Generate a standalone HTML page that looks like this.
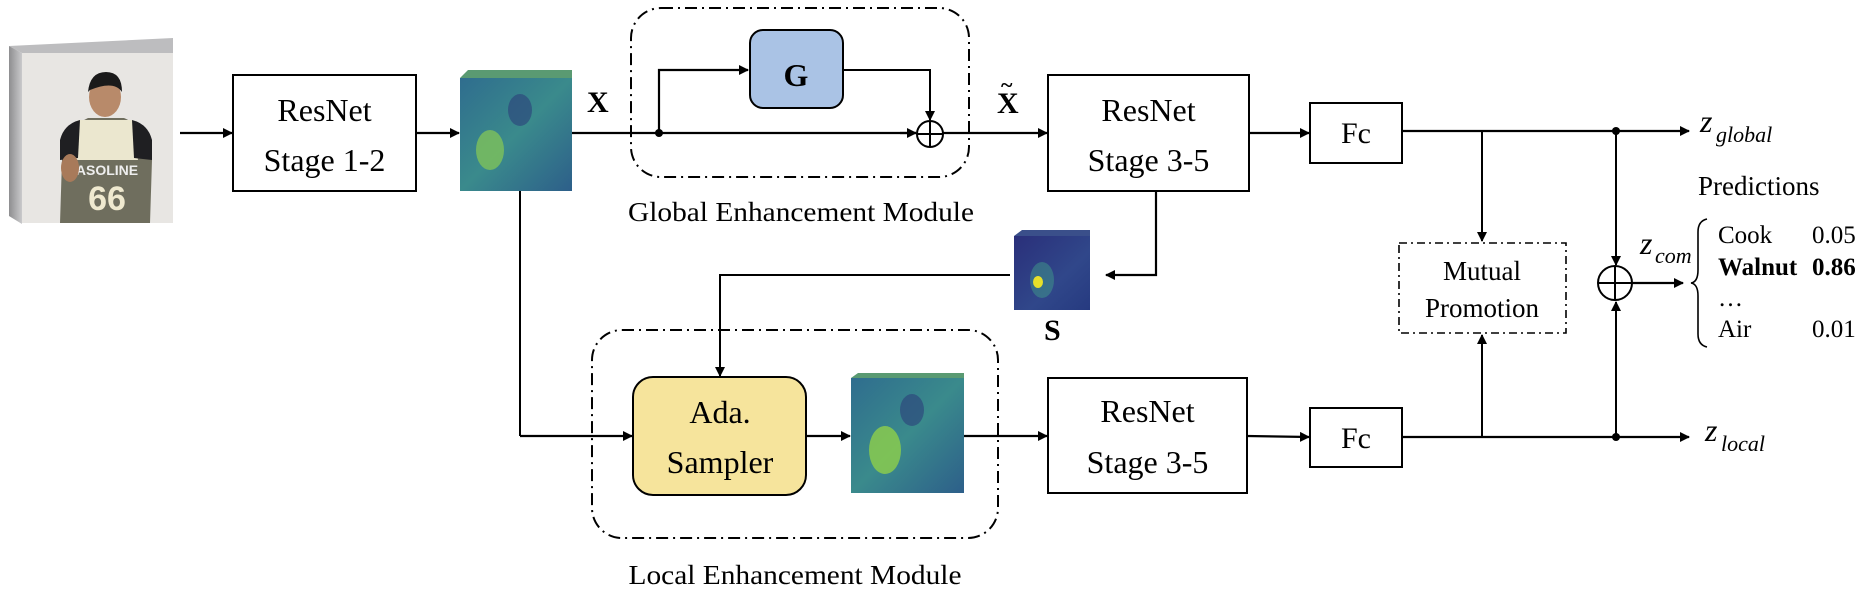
<!DOCTYPE html>
<html><head><meta charset="utf-8"><style>
html,body{margin:0;padding:0;background:#fff;}
svg{display:block;}
text{font-family:"Liberation Serif",serif;fill:#000;}
</style></head><body>
<svg width="1865" height="594" viewBox="0 0 1865 594" xmlns="http://www.w3.org/2000/svg" font-family="'Liberation Serif', serif">
<defs>
<marker id="ah" markerWidth="10" markerHeight="10" refX="9" refY="5" orient="auto" markerUnits="userSpaceOnUse">
<path d="M0,0 L10,5 L0,10 Z" fill="#000"/></marker>
<linearGradient id="fm" x1="0" y1="0" x2="1" y2="1">
<stop offset="0" stop-color="#2f6d8e"/><stop offset="0.5" stop-color="#3a8a8c"/><stop offset="1" stop-color="#2d5f8a"/></linearGradient>
<linearGradient id="sm" x1="0" y1="0" x2="1" y2="1">
<stop offset="0" stop-color="#2a2f7a"/><stop offset="0.6" stop-color="#30478a"/><stop offset="1" stop-color="#263a80"/></linearGradient>
<linearGradient id="bev" x1="0" y1="0" x2="1" y2="0">
<stop offset="0" stop-color="#8e8e90"/><stop offset="1" stop-color="#c9c9cb"/></linearGradient>
</defs>

<!-- Photo -->
<polygon points="9,46 22,53 173,53 173,38" fill="#bdbdbf"/>
<polygon points="9,46 22,53 22,224 9,216" fill="url(#bev)"/>
<rect x="22" y="53" width="151" height="170" fill="#e8e6e3"/>
<path d="M60,223 L62,160 Q66,128 88,118 L124,118 Q148,128 152,160 L150,223 Z" fill="#6f6e5e"/>
<path d="M78,120 L132,120 L138,160 L72,160 Z" fill="#ebe7cf"/>
<path d="M60,140 Q64,124 80,120 L78,158 L60,160 Z" fill="#1f1f22"/>
<path d="M152,140 Q148,124 132,120 L134,158 L152,160 Z" fill="#1f1f22"/>
<text x="107" y="175" font-size="14" text-anchor="middle" font-family="Liberation Sans,sans-serif" font-weight="bold" fill="#eee" style="font-family:'Liberation Sans',sans-serif;fill:#eee">ASOLINE</text>
<text x="107" y="210" font-size="34" text-anchor="middle" font-weight="bold" style="font-family:'Liberation Sans',sans-serif;fill:#efe9cf">66</text>
<ellipse cx="105" cy="97" rx="16" ry="20" fill="#b88a6a"/>
<path d="M88,92 Q90,72 106,72 Q122,72 122,92 Q114,80 90,90 Z" fill="#1a1a1a"/>
<ellipse cx="70" cy="168" rx="9" ry="14" fill="#a87a5a"/>

<line x1="180" y1="133" x2="232" y2="133" stroke="#000" stroke-width="2.2" marker-end="url(#ah)"/>
<rect x="233" y="75" width="183" height="116" fill="#fff" stroke="#000" stroke-width="2"/>
<text x="324.5" y="121" font-size="32" text-anchor="middle">ResNet</text>
<text x="324.5" y="171" font-size="32" text-anchor="middle">Stage 1-2</text>
<line x1="416" y1="133" x2="459" y2="133" stroke="#000" stroke-width="2.2" marker-end="url(#ah)"/>

<polygon points="460,78 468,70 572,70 572,78" fill="#5a9a72"/>
<rect x="460" y="78" width="112" height="113" fill="url(#fm)"/>
<ellipse cx="490" cy="150" rx="14" ry="20" fill="#7ec25a" opacity="0.8"/>
<ellipse cx="520" cy="110" rx="12" ry="16" fill="#2b3f7a" opacity="0.6"/>
<line x1="572" y1="133" x2="916" y2="133" stroke="#000" stroke-width="2.2"/>
<line x1="520" y1="191" x2="520" y2="436" stroke="#000" stroke-width="2"/>
<text x="587" y="112" font-size="30" font-weight="bold">X</text>

<rect x="631" y="8" width="338" height="169" rx="30" fill="none" stroke="#000" stroke-width="2" stroke-dasharray="12,5,2,5"/>
<circle cx="659" cy="133" r="4" fill="#000"/>
<polyline points="659,133 659,70 748,70" fill="none" stroke="#000" stroke-width="2.2" marker-end="url(#ah)"/>
<rect x="750" y="30" width="93" height="78" rx="13" fill="#aac3e5" stroke="#000" stroke-width="2"/>
<text x="796" y="86" font-size="32" font-weight="bold" text-anchor="middle">G</text>
<polyline points="843,70 930,70 930,120" fill="none" stroke="#000" stroke-width="2" marker-end="url(#ah)"/>
<line x1="900" y1="133" x2="916" y2="133" stroke="#000" stroke-width="2.2" marker-end="url(#ah)"/>
<circle cx="930" cy="134" r="13" fill="#fff" stroke="#000" stroke-width="2"/>
<line x1="917" y1="134" x2="943" y2="134" stroke="#000" stroke-width="2"/>
<line x1="930" y1="121" x2="930" y2="147" stroke="#000" stroke-width="2"/>
<line x1="943" y1="133" x2="1047" y2="133" stroke="#000" stroke-width="2.2" marker-end="url(#ah)"/>
<text x="997" y="113" font-size="30" font-weight="bold">X</text>
<text x="1001" y="92" font-size="22" font-weight="bold">~</text>
<text x="801" y="221" font-size="27" text-anchor="middle" textLength="346" lengthAdjust="spacingAndGlyphs">Global Enhancement Module</text>

<rect x="1048" y="75" width="201" height="116" fill="#fff" stroke="#000" stroke-width="2"/>
<text x="1148.5" y="121" font-size="32" text-anchor="middle">ResNet</text>
<text x="1148.5" y="171" font-size="32" text-anchor="middle">Stage 3-5</text>
<line x1="1249" y1="133" x2="1309" y2="133" stroke="#000" stroke-width="2.2" marker-end="url(#ah)"/>
<rect x="1310" y="103" width="92" height="60" fill="#fff" stroke="#000" stroke-width="2"/>
<text x="1356" y="143" font-size="30" text-anchor="middle">Fc</text>
<line x1="1402" y1="131" x2="1689" y2="131" stroke="#000" stroke-width="2.2" marker-end="url(#ah)"/>
<circle cx="1616" cy="131" r="4" fill="#000"/>
<line x1="1482" y1="131" x2="1482" y2="241" stroke="#000" stroke-width="2" marker-end="url(#ah)"/>
<line x1="1616" y1="131" x2="1616" y2="265" stroke="#000" stroke-width="2" marker-end="url(#ah)"/>

<polyline points="1156,191 1156,275 1106,275" fill="none" stroke="#000" stroke-width="2.2" marker-end="url(#ah)"/>
<polygon points="1014,236 1022,230 1090,230 1090,236" fill="#3a4f8a"/>
<rect x="1014" y="236" width="76" height="74" fill="url(#sm)"/>
<ellipse cx="1042" cy="280" rx="12" ry="18" fill="#3f9a8a" opacity="0.5"/>
<ellipse cx="1038" cy="282" rx="5" ry="6" fill="#e6e02a"/>
<text x="1044" y="340" font-size="30" font-weight="bold">S</text>
<polyline points="1010,275 720,275 720,376" fill="none" stroke="#000" stroke-width="2" marker-end="url(#ah)"/>

<rect x="592" y="330" width="406" height="208" rx="30" fill="none" stroke="#000" stroke-width="2" stroke-dasharray="12,5,2,5"/>
<line x1="520" y1="436" x2="632" y2="436" stroke="#000" stroke-width="2.2" marker-end="url(#ah)"/>
<rect x="633" y="377" width="173" height="118" rx="20" fill="#f6e49c" stroke="#000" stroke-width="2"/>
<text x="720" y="423" font-size="32" text-anchor="middle">Ada.</text>
<text x="720" y="473" font-size="32" text-anchor="middle">Sampler</text>
<line x1="806" y1="436" x2="850" y2="436" stroke="#000" stroke-width="2.2" marker-end="url(#ah)"/>
<polygon points="851,378 858,373 964,373 964,378" fill="#5a9a72"/>
<rect x="851" y="378" width="113" height="115" fill="url(#fm)"/>
<ellipse cx="885" cy="450" rx="16" ry="24" fill="#8fd04a" opacity="0.8"/>
<ellipse cx="912" cy="410" rx="12" ry="16" fill="#2b3f7a" opacity="0.6"/>
<line x1="964" y1="436" x2="1047" y2="436" stroke="#000" stroke-width="2.2" marker-end="url(#ah)"/>
<text x="795" y="584" font-size="27" text-anchor="middle" textLength="333" lengthAdjust="spacingAndGlyphs">Local Enhancement Module</text>

<rect x="1048" y="378" width="199" height="115" fill="#fff" stroke="#000" stroke-width="2"/>
<text x="1147.5" y="422" font-size="32" text-anchor="middle">ResNet</text>
<text x="1147.5" y="473" font-size="32" text-anchor="middle">Stage 3-5</text>
<line x1="1247" y1="436" x2="1309" y2="437" stroke="#000" stroke-width="2.2" marker-end="url(#ah)"/>
<rect x="1310" y="408" width="92" height="59" fill="#fff" stroke="#000" stroke-width="2"/>
<text x="1356" y="448" font-size="30" text-anchor="middle">Fc</text>
<line x1="1402" y1="437" x2="1689" y2="437" stroke="#000" stroke-width="2.2" marker-end="url(#ah)"/>
<circle cx="1616" cy="437" r="4" fill="#000"/>
<line x1="1482" y1="437" x2="1482" y2="335" stroke="#000" stroke-width="2" marker-end="url(#ah)"/>
<line x1="1616" y1="437" x2="1616" y2="302" stroke="#000" stroke-width="2" marker-end="url(#ah)"/>

<rect x="1399" y="243" width="167" height="90" fill="#fff" stroke="#000" stroke-width="1.6" stroke-dasharray="8,4,2,4"/>
<text x="1482" y="280" font-size="27" text-anchor="middle">Mutual</text>
<text x="1482" y="317" font-size="27" text-anchor="middle">Promotion</text>

<circle cx="1615" cy="283" r="17" fill="#fff" stroke="#000" stroke-width="2"/>
<line x1="1598" y1="283" x2="1632" y2="283" stroke="#000" stroke-width="2"/>
<line x1="1615" y1="266" x2="1615" y2="300" stroke="#000" stroke-width="2"/>
<line x1="1632" y1="283" x2="1683" y2="283" stroke="#000" stroke-width="2.2" marker-end="url(#ah)"/>

<text x="1700" y="132" font-size="32" font-style="italic">z</text>
<text x="1716" y="142" font-size="22" font-style="italic">global</text>
<text x="1640" y="254" font-size="32" font-style="italic">z</text>
<text x="1655" y="263" font-size="22" font-style="italic">com</text>
<text x="1705" y="441" font-size="32" font-style="italic">z</text>
<text x="1721" y="451" font-size="22" font-style="italic">local</text>

<text x="1698" y="195" font-size="27">Predictions</text>
<path d="M1707,219 Q1698,221 1698,232 L1698,270 Q1698,282 1691,283 Q1698,284 1698,296 L1698,334 Q1698,345 1707,347" fill="none" stroke="#000" stroke-width="1.6"/>
<text x="1718" y="243" font-size="25">Cook</text>
<text x="1812" y="243" font-size="25">0.05</text>
<text x="1718" y="275" font-size="25" font-weight="bold">Walnut</text>
<text x="1812" y="275" font-size="25" font-weight="bold">0.86</text>
<text x="1718" y="306" font-size="25">…</text>
<text x="1718" y="337" font-size="25">Air</text>
<text x="1812" y="337" font-size="25">0.01</text>
</svg>
</body></html>
